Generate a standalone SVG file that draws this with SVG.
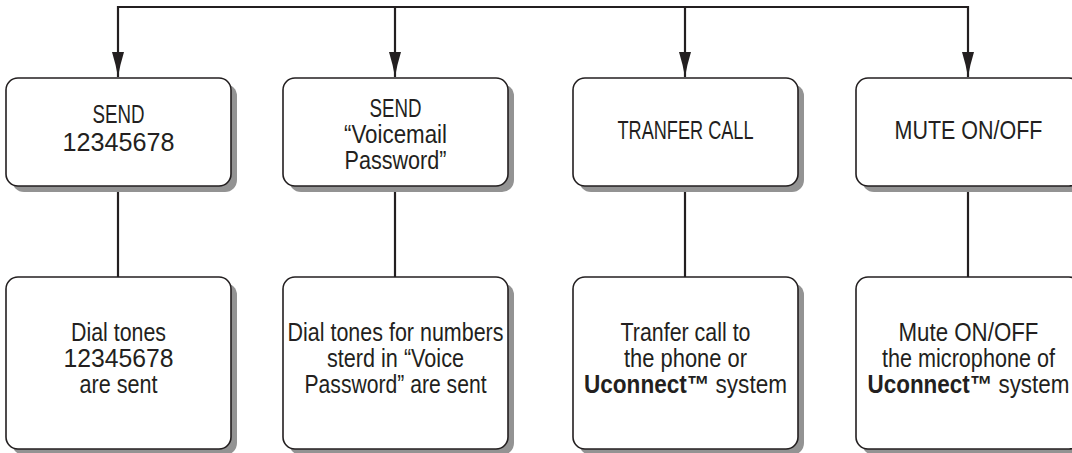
<svg xmlns="http://www.w3.org/2000/svg" width="1072" height="453" viewBox="0 0 1072 453">
<defs>
<style>
.box{fill:#fff;stroke:#231f20;stroke-width:1.6}
.shadow{fill:#939393}
.conn{fill:none;stroke:#231f20;stroke-width:2.2}
.t{font-family:"Liberation Sans",Arial,sans-serif;font-size:25px;fill:#231f20;text-anchor:middle}
.b{font-weight:bold}
</style>
<marker id="arr" markerUnits="userSpaceOnUse" markerWidth="26" markerHeight="14" refX="25" refY="7" orient="auto">
<path d="M0,1 Q13,5 25,7 Q13,9 0,13 Z" fill="#231f20"/>
</marker>
</defs>
<rect width="1072" height="453" fill="#fff"/>
<g id="connectors">
<path class="conn" d="M118,7 H968"/>
<path class="conn" d="M118,6 V77" marker-end="url(#arr)"/>
<path class="conn" d="M395,6 V77" marker-end="url(#arr)"/>
<path class="conn" d="M685,6 V77" marker-end="url(#arr)"/>
<path class="conn" d="M968,6 V77" marker-end="url(#arr)"/>
<path class="conn" d="M118,187 V277"/>
<path class="conn" d="M395,187 V277"/>
<path class="conn" d="M685,187 V277"/>
<path class="conn" d="M968,187 V277"/>
</g>
<g id="send-number">
<rect class="shadow" x="12" y="84" width="225" height="108" rx="12"/>
<rect class="box" x="6" y="78" width="225" height="108" rx="12"/>
<text class="t" x="118.5" y="123" textLength="52" lengthAdjust="spacingAndGlyphs">SEND</text>
<text class="t" x="118.5" y="151" textLength="112" lengthAdjust="spacingAndGlyphs">12345678</text>
</g>
<g id="send-voicemail">
<rect class="shadow" x="289" y="84" width="225" height="108" rx="12"/>
<rect class="box" x="283" y="78" width="225" height="108" rx="12"/>
<text class="t" x="395.5" y="116.5" textLength="52" lengthAdjust="spacingAndGlyphs">SEND</text>
<text class="t" x="395.5" y="143" textLength="103" lengthAdjust="spacingAndGlyphs">“Voicemail</text>
<text class="t" x="395.5" y="169" textLength="102" lengthAdjust="spacingAndGlyphs">Password”</text>
</g>
<g id="transfer-call">
<rect class="shadow" x="579" y="84" width="225" height="108" rx="12"/>
<rect class="box" x="573" y="78" width="225" height="108" rx="12"/>
<text class="t" x="685.5" y="139" textLength="136" lengthAdjust="spacingAndGlyphs">TRANFER CALL</text>
</g>
<g id="mute">
<rect class="shadow" x="862" y="84" width="225" height="108" rx="12"/>
<rect class="box" x="856" y="78" width="225" height="108" rx="12"/>
<text class="t" x="968.5" y="139" textLength="148" lengthAdjust="spacingAndGlyphs">MUTE ON/OFF</text>
</g>
<g id="dial-tones">
<rect class="shadow" x="12" y="283" width="225" height="172" rx="12"/>
<rect class="box" x="6" y="277" width="225" height="172" rx="12"/>
<text class="t" x="118.5" y="341" textLength="95" lengthAdjust="spacingAndGlyphs">Dial tones</text>
<text class="t" x="118.5" y="367" textLength="110" lengthAdjust="spacingAndGlyphs">12345678</text>
<text class="t" x="118.5" y="393" textLength="78" lengthAdjust="spacingAndGlyphs">are sent</text>
</g>
<g id="dial-tones-password">
<rect class="shadow" x="289" y="283" width="225" height="172" rx="12"/>
<rect class="box" x="283" y="277" width="225" height="172" rx="12"/>
<text class="t" x="395.5" y="341" textLength="216" lengthAdjust="spacingAndGlyphs">Dial tones for numbers</text>
<text class="t" x="395.5" y="367" textLength="137" lengthAdjust="spacingAndGlyphs">sterd in “Voice</text>
<text class="t" x="395.5" y="393" textLength="182" lengthAdjust="spacingAndGlyphs">Password” are sent</text>
</g>
<g id="transfer-result">
<rect class="shadow" x="579" y="283" width="225" height="172" rx="12"/>
<rect class="box" x="573" y="277" width="225" height="172" rx="12"/>
<text class="t" x="685.5" y="341" textLength="130" lengthAdjust="spacingAndGlyphs">Tranfer call to</text>
<text class="t" x="685.5" y="367" textLength="123" lengthAdjust="spacingAndGlyphs">the phone or</text>
<text class="t" x="685.5" y="393" textLength="203" lengthAdjust="spacingAndGlyphs"><tspan class="b">Uconnect™</tspan> system</text>
</g>
<g id="mute-result">
<rect class="shadow" x="862" y="283" width="225" height="172" rx="12"/>
<rect class="box" x="856" y="277" width="225" height="172" rx="12"/>
<text class="t" x="968.5" y="341" textLength="140" lengthAdjust="spacingAndGlyphs">Mute ON/OFF</text>
<text class="t" x="968.5" y="367" textLength="173" lengthAdjust="spacingAndGlyphs">the microphone of</text>
<text class="t" x="968.5" y="393" textLength="202" lengthAdjust="spacingAndGlyphs"><tspan class="b">Uconnect™</tspan> system</text>
</g>
</svg>
